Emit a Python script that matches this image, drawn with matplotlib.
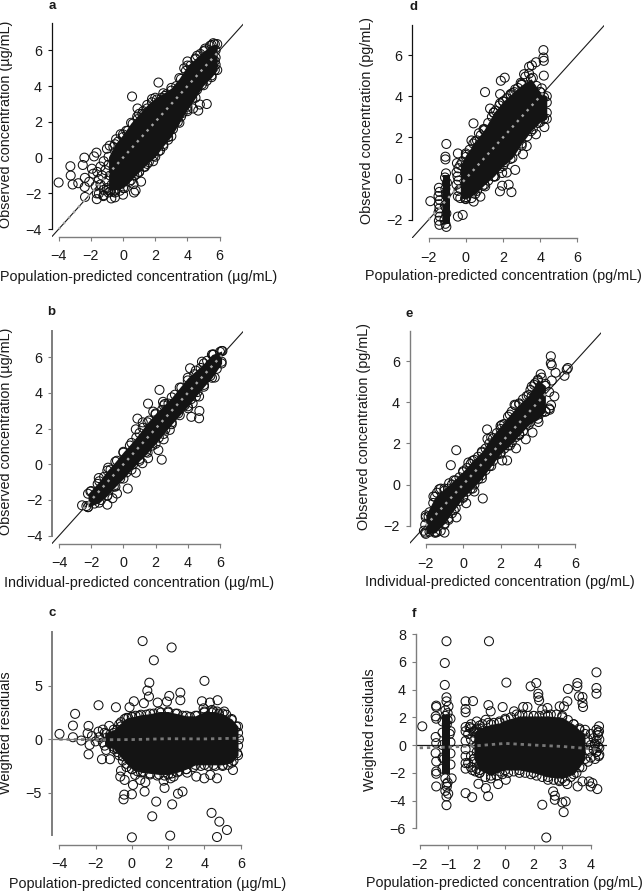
"""Six-panel goodness-of-fit figure. Individual circles were read off the
picture; the solid black mass of overplotted circles is kept as lo/hi bands
with a rim of circles around it."""
import matplotlib
matplotlib.use("Agg")
import matplotlib.pyplot as plt

plt.rcParams["font.family"] = ["Liberation Sans", "DejaVu Sans"]

W, H = 644, 893
INK = "#1a1a1a"
GREY = "#7d7d7d"
FONT = 10.4

# --- panel a ---
a_x = [-4, -3.27, -3.25, -3.13, -2.78, -2.4, -2.5, -2.37, -2.38, -2.36, -1.65, -1.8, -1.93, -1.85, -1.63, -2.1, -1.63, -1.22, -1, -0.83, -0.43, -0.15, 0.2, 0.56, 0.9, 1.25, 0.88, 2.2, 1.8, -0.73, -0.5, 0, 0.68, 0.78, 0.65, 1.12, 0.88, 1.35, 1.87, 2.3, 2.8, 3.2, 3.6, 4, 4.67, 4.77, 5.2, 4.35, 4, 3.8, 4.6, 5.1, 5.6, 2.6,
       -1.6, -1.4, -1.2, -1.5, -1.3, -1.1, -0.9, -1.7, -1.4, -1.0, -0.8, -1.2, -1.0, -0.7, -1.5, -1.2, -0.9, -0.6]
a_y = [-1.39, -0.48, -1, -1.5, -1.43, 0, -0.41, -1.13, -1.64, -2.2, 0.28, 0.07, -0.62, -0.9, -2.32, -1.35, -2, -2.15, 0.5, 0.67, 1.03, 1.31, 1.5, 3.42, 2.75, 2.6, 2.3, 4.2, 3.28, -2.28, -2.22, -2.07, -1.95, -1.84, -1.48, -1.34, -0.9, -0.52, -0.2, 0.4, 1, 1.95, 2.3, 2.6, 2.63, 2.97, 3, 2.75, 5.38, 5, 5.7, 6.1, 6.4, 3.45,
       -0.8, -0.5, -0.2, -1.2, -1.0, -0.7, -0.4, -1.6, -1.5, -1.3, -1.0, -1.8, -1.7, -1.5, -2.0, -2.1, -1.95, -1.9]
a_rim_x = [-0.6, -0.3, 0, 0.3, 0.6, 0.9, 1.2, 1.5, 1.8, 2.1, 2.4, 2.7, 3, 3.3, 3.6, 3.9, 4.2, 4.5, 4.8, 5.1, 5.4, 5.7,
           -0.8, -0.5, -0.2, 0.1, 0.4, 0.7, 1, 1.3, 1.6, 1.9, 2.2, 2.5, 2.8, 3.1, 3.4, 3.7, 4, 4.3, 4.6, 4.9, 5.2, 5.5, 5.7, 5.75, 5.75, 5.75, 5.7]
a_rim_y = [0.6, 0.9, 1.15, 1.5, 1.9, 2.15, 2.45, 2.75, 3.1, 3.25, 3.35, 3.55, 3.75, 4, 4.4, 4.85, 5.15, 5.5, 5.8, 6, 6.25, 6.35,
           -1.9, -1.95, -1.85, -1.7, -1.35, -1, -0.8, -0.5, -0.25, 0.1, 0.35, 0.75, 1.15, 1.6, 2, 2.5, 2.85, 3.3, 3.8, 4.1, 4.3, 4.6, 4.9, 5.2, 5.6, 6, 5.4]
a_core_x = [-0.9, -0.5, 0, 0.5, 1, 1.5, 2, 2.5, 3, 3.5, 4, 4.5, 5, 5.5, 5.85]
a_core_lo = [-1.8, -1.8, -1.7, -1.25, -0.8, -0.35, 0.05, 0.65, 1.2, 1.95, 2.7, 3.35, 4.05, 4.5, 4.9]
a_core_hi = [0.05, 0.75, 1.3, 1.95, 2.45, 2.95, 3.35, 3.6, 3.9, 4.45, 5.15, 5.55, 5.95, 6.3, 6.35]
a_sm_x = [-4, -2, 0, 2, 4, 5.9]
a_sm_y = [-4, -2, 0, 2, 4, 5.9]

# --- panel b ---
b_x = [-2.57, -2.3, -2.05, -1.53, -0.95, -1, -0.68, -0.4, 0.27, 0.77, 1.18, 1.53, 2.17, 2.38, 2.5, 2.88, 0.77, 0.87, 1.53, 2.24, 2.46, 2.57, 4.22, 4.7, 4.72, 4.7, 4.02, 4.3, 4.14, 4.88, 5.67, 6.15, 5.57, 1.2, 1.85]
b_y = [-2.3, -2.34, -1.53, -0.77, -0.19, -2.26, -1.9, -1.64, -1.36, -0.47, 0.06, 0.34, 0.8, 0.26, 1.4, 1.93, 1.96, 2.56, 3.4, 4.17, 3.5, 3.38, 2.66, 2.58, 2.99, 3.8, 3.14, 3.42, 5.38, 5.75, 4.86, 6.35, 6.15, 2.35, 2.95]
b_rim_x = [-2, -1.6, -1.2, -0.8, -0.4, 0, 0.4, 0.8, 1.2, 1.6, 2, 2.4, 2.8, 3.2, 3.6, 4, 4.4, 4.8, 5.2, 5.6, 6,
           -2.2, -1.8, -1.4, -1, -0.6, -0.2, 0.2, 0.6, 1, 1.4, 1.8, 2.2, 2.6, 3, 3.4, 3.8, 4.2, 4.6, 5, 5.4, 5.8, 6.1]
b_rim_y = [-1.5, -1.1, -0.7, -0.3, 0.2, 0.65, 1.05, 1.5, 2.05, 2.45, 2.8, 3.05, 3.4, 3.9, 4.3, 4.7, 5.05, 5.4, 5.8, 6.15, 6.3,
           -2.4, -2.2, -2, -1.75, -1.25, -0.8, -0.45, 0, 0.3, 0.7, 1.05, 1.5, 1.95, 2.35, 2.85, 3.3, 3.65, 4.05, 4.45, 4.95, 5.35, 5.75]
b_core_x = [-2.2, -1.5, -1, -0.5, 0, 0.5, 1, 1.5, 2, 2.5, 3, 3.5, 4, 4.5, 5, 5.5, 6.1]
b_core_lo = [-2.4, -2.15, -1.75, -1.25, -0.8, -0.3, 0.2, 0.65, 1.15, 1.7, 2.25, 2.75, 3.25, 3.8, 4.35, 4.85, 5.65]
b_core_hi = [-1.65, -0.95, -0.35, 0.15, 0.7, 1.2, 1.75, 2.35, 2.85, 3.3, 3.75, 4.3, 4.85, 5.25, 5.65, 6.15, 6.35]
b_sm_x = [-2.5, -1, 0, 2, 4, 6.1]
b_sm_y = [-2.5, -1, 0, 2, 4, 6.1]

# --- panel c ---
c_x = [0.59, 2.19, 1.21, 0.96, 0.85, 0.94, 4, 2.67, 2.67, 2.06, 1.93, 0.11, 0.66, 1.42, -0.88, -1.84, -3.13, -3.25, -3.99, -3.25, -2.79, -2.39, -2.44, -2.33, -2.39, -1.65, -1.21, -1.42, -1.25, -1.84, -0.13, 3.86, 4.3, 4.72, 4.41, 3.95, 4.69, 5.09, 5.57, 4.69, 4.32, 3.99, 3.55, 3.05, 2.3, 2.13, 1.75, 1.8, 0.7, 0, -0.42, -0.46, 1.34, 2.22, 2.54, 2.79, 1.12, 4.39, 4.82, 5.24, 4.69, 2.11, 0, -0.4, 0.06, 0.74, -0.6, 0.18, 0.46, -0.64]
c_y = [9.2, 8.6, 7.4, 5.3, 4.56, 4, 5.47, 4.37, 3.66, 4.06, 3.53, 3.56, 3.38, 3.44, 3, 3.19, 2.38, 1.28, 0.5, 0.19, -0.12, 1.25, 0.56, -0.53, -1.41, -1.87, -1.87, -1, 1.25, 0.72, 3, 3.56, 3.44, 3.66, 2.75, 2.9, 2.6, 2.6, -2.88, -3.66, -3.34, -3.66, -3.5, -3.13, -3.5, -3.66, -3.88, -4.56, -4.9, -5.16, -5.19, -5.63, -5.84, -6.1, -5.1, -4.9, -7.22, -6.9, -7.72, -8.5, -9.16, -9.03, -9.19, -3.81, -4.28, -4.03, -2.94, -3.34, -3.81, -3.5]
c_rim_x = [-0.6, -0.4, -0.2, 0, 0.2, 0.4, 0.8, 1.2, 1.6, 2, 2.4, 2.8, 3.2, 3.6, 4, 4.4, 4.8, 5.2, 5.5, 5.75, 5.85, 5.9, 5.85, 5.8, 5.6,
           -0.8, -0.5, -0.3, 0, 0.3, 0.6, 1, 1.4, 1.8, 2.2, 2.6, 3, 3.4, 3.8, 4.2, 4.6, 5, 5.3,
           -1.8, -1.6, -1.4, -1.2, -1, -1, -0.8, -2, -2.2, -1.6, -0.8, -0.6, -0.5]
c_rim_y = [1.6, 1.9, 2, 2.1, 2.2, 2.2, 2.3, 2.4, 2.5, 2.5, 2.4, 2.2, 2.1, 2.2, 2.5, 2.5, 2.4, 2.3, 1.8, 1.2, 0.6, 0, -0.6, -1.3, -2,
           -1.2, -2, -2.6, -2.8, -3, -3.1, -3.3, -3.4, -3.4, -3.2, -3, -2.8, -2.6, -2.5, -2.5, -2.5, -2.5, -2.4,
           0.2, -0.3, 0.5, -0.4, 0.6, -0.7, 0.9, -0.2, 0.3, 0.9, -0.9, 1.2, -1.6]
c_core_x = [-1.5, -1, -0.7, -0.3, 0, 0.5, 1, 1.5, 2, 2.5, 3, 3.5, 4, 4.5, 5, 5.5, 5.85]
c_core_lo = [-0.6, -0.9, -1.5, -2.3, -2.8, -3.1, -3.2, -3.3, -3.3, -3.1, -2.8, -2.4, -2.4, -2.4, -2.4, -2.2, -1.5]
c_core_hi = [0.6, 0.9, 1.4, 2, 2.1, 2.3, 2.4, 2.6, 2.6, 2.4, 2.2, 2.2, 2.6, 2.6, 2.4, 1.9, 1.2]
c_sm_x = [-4, -2, 0, 2, 4, 5.9]
c_sm_y = [0, -0.05, -0.03, 0.05, 0.03, 0.1]

# --- panel d ---
d_x = [-1.91, -1.05, -1.1, -1.1, -0.43, -0.17, -0.43, -0.48, 0, 0.41, 1.03, 1.3, 1.84, 1.88, 2.09, 1.84, 2.4, 2.65, 2.95, 3.13, 3.4, 3.55, 3.77, 4.17, 4.17, 4.19, 4.19, 4.08, 4.22, 3.77, 3.27, 3.07, 2.65, 2.2, 1.95, 1.95, 2.3, 2.45, 1.83, 0.78, 0.42, -0.04, -0.43, 1.04, 1.58, 0.3, 0.7, 0.95, 1.5,
       -1.45, -1.42, -1.47, -1.4, -1.45, -1.42, -1.47, -1.4, -1.45, -1.42, -1.07, -1.12, -1.05, -1.1, -1.15, -1.02, -1.08, -1.12, -1.05, -1.1, -0.5, -0.45, -0.4, -0.5, -0.4]
d_y = [-1.1, 1.68, 1.06, 0.93, -1.85, -1.77, 1.22, 0.75, 1.22, 2.68, 4.2, 3.4, 4.1, 4.75, 4.9, 3.65, 4.1, 4.33, 4.65, 5.07, 5.43, 5.5, 5.65, 6.24, 5.88, 5.72, 5, 4.38, 2.5, 2.15, 1.58, 1.18, 0.42, 0.29, 0.27, -0.35, -0.3, -0.66, -0.62, -0.88, -1.12, -0.97, -0.87, -0.38, 0.1, 1.85, 2.2, 2.4, 3.2,
       -0.45, -0.65, -0.85, -1.05, -1.25, -1.45, -1.65, -1.85, -2.05, -2.25, 0.25, 0.05, -2.35, -2.2, -2, -0.2, -0.8, -1.3, -1.7, -0.5, 0.3, 0.1, -0.1, -0.3, -0.6]
d_rim_x = [-0.4, -0.2, 0, 0.2, 0.4, 0.6, 0.8, 1, 1.2, 1.4, 1.6, 1.8, 2, 2.2, 2.4, 2.6, 2.8, 3, 3.2, 3.4, 3.6, 3.8, 4, 4.2, 4.35,
           -0.3, 0, 0.3, 0.6, 0.9, 1.2, 1.5, 1.8, 2.1, 2.4, 2.7, 3, 3.3, 3.6, 3.9, 4.2, 4.35]
d_rim_y = [0.5, 0.8, 1.05, 1.4, 1.7, 1.85, 2.1, 2.35, 2.7, 3, 3.3, 3.55, 3.75, 3.9, 4.05, 4.2, 4.4, 4.6, 4.95, 5.1, 4.9, 4.5, 4.2, 3.95, 3.7,
           -0.5, -0.9, -0.95, -0.6, -0.35, -0.1, 0.1, 0.5, 0.8, 0.95, 1.35, 1.6, 2.05, 2.4, 2.7, 2.9, 3.2]
d_col_x = [-1.25, -0.88]
d_col_lo = [-2.2, -2.2]
d_col_hi = [0.15, 0.15]
d_core_x = [-0.3, 0, 0.5, 1, 1.5, 2, 2.5, 3, 3.5, 4, 4.35]
d_core_lo = [-0.95, -1, -0.75, -0.3, 0.1, 0.6, 1, 1.7, 2.3, 2.75, 2.9]
d_core_hi = [0.65, 1.15, 1.8, 2.4, 3.2, 3.75, 4.15, 4.55, 4.85, 4.2, 4]
d_sm_x = [-2, -1, 0, 2, 4, 4.3]
d_sm_y = [-2, -1, 0, 2, 4, 4.3]

# --- panel e ---
e_x = [4.69, 4.69, 4.74, 5.54, 5.42, 5.6, 4.94, 4.15, 4.74, 4.88, 4.63, 4.03, 3.71, 3.35, 2.83, 2.35, 2.09, 1.28, 1.3, -0.37, -0.66, 0.28, 1.05, 0.6, 0.16, -0.36, -0.78, -1, -2.03, -1.41, -0.75, -1.28, -1.59, -2.03, -1.85, 3.67, 3.67, 3.85, 2.75, 2.07, 4.7]
e_y = [6.24, 5.9, 5.8, 5.6, 5.29, 5.67, 5.44, 5.37, 5.06, 4.29, 3.64, 3.04, 2.53, 2.2, 1.76, 1.17, 1.17, 2.68, 2.22, 1.67, 0.94, 1.07, -0.68, -0.34, -0.91, -1.6, -1.72, -2.34, -2.34, -2.32, 0.06, -0.23, -0.58, -1.96, -1.55, 4.29, 4.77, 4.93, 3.88, 2.9, 3.86]
e_rim_x = [-2, -1.8, -1.6, -1.4, -1.2, -1, -0.8, -0.6, -0.4, -0.2, 0, 0.2, 0.4, 0.6, 0.8, 1, 1.2, 1.4, 1.6, 1.8, 2, 2.2, 2.4, 2.6, 2.8, 3, 3.2, 3.4, 3.6, 3.8, 4, 4.2, 4.4, 4.6,
           -2.1, -1.8, -1.5, -1.2, -1, -0.8, -0.6, -0.4, -0.2, 0, 0.2, 0.4, 0.6, 0.8, 1, 1.2, 1.4, 1.6, 1.8, 2, 2.2, 2.4, 2.6, 2.8, 3, 3.2, 3.4, 3.6, 3.8, 4, 4.2, 4.4, 4.6]
e_rim_y = [-1.6, -1.35, -0.9, -0.4, -0.2, -0.3, -0.2, 0, 0.2, 0.35, 0.6, 0.8, 1, 1.2, 1.35, 1.55, 1.75, 2, 2.25, 2.5, 2.7, 2.95, 3.3, 3.55, 3.85, 3.95, 4.15, 4.3, 4.6, 4.85, 5.05, 5.2, 4.9, 4.5,
           -2.25, -2.3, -2.3, -2.25, -1.95, -1.65, -1.4, -1.15, -0.8, -0.6, -0.35, -0.2, 0, 0.25, 0.45, 0.7, 0.9, 1.15, 1.45, 1.55, 1.75, 1.9, 2.05, 2.3, 2.45, 2.6, 2.95, 3.05, 3.3, 3.4, 3.5, 3.55, 3.7]
e_core_x = [-2, -1.5, -1, -0.5, 0, 0.5, 1, 1.5, 2, 2.5, 3, 3.5, 4, 4.4]
e_core_lo = [-2.4, -2.35, -1.9, -1.25, -0.65, -0.2, 0.3, 0.9, 1.5, 1.9, 2.4, 2.9, 3.2, 3.55]
e_core_hi = [-1.5, -0.6, -0.2, 0.2, 0.65, 1.15, 1.6, 2.3, 2.85, 3.4, 3.9, 4.35, 5.1, 4.8]
e_sm_x = [-2, -1, 0, 2, 4, 4.6]
e_sm_y = [-2, -1, 0, 2, 4, 4.6]

# --- panel f ---
f_x = [-1.91, -1.06, -1.12, -1.12, -1.06, -1.06, -0.99, -1.42, -1.42, -1.44, -1.42, -1.44, -1.42, -1.44, -1.42, -1.42, -1.42, -1.42, -1.06, -1.06, -0.39, -0.39, -0.39, -0.13, -0.39, -0.16, 0.06, 0.32, 0.4, 0.43, 0.41, 0.49, 0.91, 1.04, 1.89, 2.09, 2.16, 2.16, 2.19, 1.63, 1.78, 1.31, 2.3, 2.48, 2.91, 3.06, 3.18, 3.2, 3.53, 3.53, 3.59, 3.71, 3.71, 3.73, 4.2, 4.2, 4.2, 4.29, 4.29, 2.3, 2.68, 2.74, 2.74, 3, 3.12, 3.05, 2.44, 3.18, 3.54, 4.23, 4, 4.06, 3.94, 3.71, 2.89, 0.75, 1.02, 0, 0.32,
       -0.39, -0.39, -0.39, -0.39, -0.39, -0.39, -0.39, -0.2, -0.2, -0.2, -0.2, -0.05, -0.05, 0.1, 0.1, 4.2, 4.25, 4.3, 4.15, 4.3, 4.2, 4.28, 4.15, 4.25, -1.1, -1.02, -1.1, -1.02, -1.05, -1.1, -1, -1.05, -0.95, -1.15]
f_y = [1.35, 7.48, 5.91, 4.33, 3.44, 3.15, 2.79, 2.84, 2.74, 2.07, 1.9, 0.58, 0.14, -0.58, -1.18, -1.9, -2.07, -2.98, -4.33, -3.7, 3.15, 2.6, 2.36, 3.17, -3.46, -3.75, -2.79, -3.1, -3.68, 7.48, 2.88, 2.43, 2.74, 4.5, 4.23, 4.47, 3.7, 3.46, 3.22, 2.74, 2.74, 2.43, 2.55, 2.67, 2.79, 2.79, 3.15, 4.04, 4.47, 4.23, 3.51, 3.46, 3.03, 2.74, 5.24, 4.11, 3.7, 1.35, 0.99, -4.3, -3.34, -3.65, -3.94, -4.13, -4.06, -4.83, -6.66, -2.81, -2.98, -3.17, -2.98, -2.74, -2.62, -2.62, -2.5, -2.81, -2.5, 1.7, 1.82,
       1.3, 1, 0.3, -0.3, -0.8, -1.3, -1.7, 1.2, 0.4, -0.8, -1.6, 1, -1.9, 1.4, -2, 1.1, 0.7, 0.4, 0.1, -0.2, -0.5, -0.8, -1, 0.9, 2.5, 2.3, -2.4, -2.7, -3, -3.3, -3.5, 1.5, 0.8, -1]
f_rim_x = [0, 0.2, 0.4, 0.6, 0.8, 1, 1.2, 1.4, 1.6, 1.8, 2, 2.2, 2.4, 2.6, 2.8, 3, 3.2, 3.4, 3.6, 3.8, 4,
           -0.1, 0, 0.1, 0.3, 0.5, 0.7, 0.9, 1.1, 1.3, 1.5, 1.7, 1.9, 2.1, 2.3, 2.5, 2.7, 2.9, 3.1, 3.3, 3.5, 3.7, 3.9, 4,
           -0.2, -0.1, -0.05, 0, 0, -0.1, 0.05, 0.1, 0.2, 0.2, 0.15, -0.3, -0.3, -0.15, -0.25,
           4.1, 4.2, 4.25, 4.1, 4.2, 4.3, 4.15, 3.9, 3.95, 4,
           -1.2, -1.2, -1.2, -1.2, -1.2, -0.92, -0.92, -0.92, -0.92, -0.92, -0.88, -1.06, -1.1, -1.02]
f_rim_y = [1.2, 1.5, 1.6, 1.6, 1.7, 1.9, 2, 2.2, 2.2, 2.1, 2.1, 2.1, 2.2, 2.2, 2.2, 2.1, 1.8, 1.5, 1.2, 1.1, 0.8,
           -1.2, -1.7, -2, -2.3, -2.4, -2.2, -2.1, -2, -1.9, -2, -2, -2.1, -2.2, -2.3, -2.5, -2.5, -2.6, -2.6, -2.3, -2, -1.6, -1.2, -0.9,
           1.5, 1, 0.5, 0, -0.5, -1, 0.9, 0.3, 1, -1.5, -0.5, -1.3, 0.8, -1.8, 1.3,
           0.5, 0.3, -0.1, -0.3, -0.5, -0.7, 0, 0.4, -0.4, 0,
           1.7, 0.9, 0, -0.9, -1.7, 1.9, 1, 0.2, -0.6, -1.4, -2.4, -2.8, 2.1, 1.8]
f_col_x = [-1.2, -0.92]
f_col_lo = [-2.1, -2.1]
f_col_hi = [2.2, 2.2]
f_core_x = [-0.1, 0.1, 0.5, 0.8, 1, 1.5, 2, 2.5, 3, 3.4, 3.6, 3.8]
f_core_lo = [-1, -1.8, -2.2, -1.9, -1.8, -1.8, -2, -2.3, -2.4, -2.1, -1.6, -1]
f_core_hi = [0.9, 1.2, 1.5, 1.6, 1.8, 2.1, 2.1, 2.1, 2, 1.5, 1.1, 0.8]
f_sm_x = [-2, -1, 0, 1, 2, 3, 4.2]
f_sm_y = [-0.2, -0.15, -0.05, 0.12, 0, -0.1, -0.3]

x_ticks_wide = [-4, -2, 0, 2, 4, 6]
x_ticks_narrow = [-2, 0, 2, 4, 6]
f_x_ticks = [-2, -1, 0, 1, 2, 3, 4]
f_x_labels = ["\u22122", "\u22121", "2", "0", "2", "3", "4"]


def px_text(fig, x, y, s, **kw):
    fig.text(x / W, 1 - y / H, s, color=INK, ha="center", va="center", **kw)


def make_axes(fig, box, xlim, ylim, xticks, yticks, ybounds, left_color, left_lw):
    x0, y0, x1, y1 = box
    ax = fig.add_axes([x0 / W, 1 - y1 / H, (x1 - x0) / W, (y1 - y0) / H])
    ax.patch.set_alpha(0)
    ax.set_xlim(*xlim)
    ax.set_ylim(*ylim)
    ax.set_xticks(xticks)
    ax.set_yticks(yticks)
    ax.set_yticklabels([str(t).replace("-", "\u2212") for t in yticks])
    ax.set_xticklabels([str(t).replace("-", "\u2212") for t in xticks])
    ax.spines["top"].set_visible(False)
    ax.spines["right"].set_visible(False)
    ax.spines["left"].set_bounds(*ybounds)
    ax.spines["bottom"].set_bounds(xticks[0], xticks[-1])
    ax.spines["left"].set_color(left_color)
    ax.spines["left"].set_linewidth(left_lw)
    ax.spines["bottom"].set_color(GREY)
    ax.spines["bottom"].set_linewidth(1.0)
    ax.tick_params(axis="x", length=3, width=0.8, color=GREY, labelsize=FONT,
                   labelcolor=INK, pad=6)
    ax.tick_params(axis="y", length=3, width=0.8, color=left_color, labelsize=FONT,
                   labelcolor=INK, pad=4)
    return ax


def draw_cloud(ax, x, y, core_x, core_lo, core_hi, sm_x, sm_y, diagonal=True, bars=None):
    # reference line first so the cloud sits on top of it
    if diagonal:
        ax.plot([-10, 10], [-10, 10], color=INK, lw=0.8, zorder=1)
    else:
        ax.axhline(0, color=GREY if bars is None else INK, lw=0.9, zorder=1)
    ax.fill_between(core_x, core_lo, core_hi, color="#141414", lw=0, zorder=3)
    if bars is not None:
        ax.fill_between(bars[0], bars[1], bars[2], color="#141414", lw=0, zorder=3)
    for px, py in ((x, y), (core_x, core_lo), (core_x, core_hi)):
        ax.scatter(px, py, s=42, facecolors="none", edgecolors="#111111",
                   linewidths=0.75, zorder=2, clip_on=False)
    if diagonal:
        ax.plot(sm_x, sm_y, color="#a8a8a8", lw=1.7, ls=(0, (1, 2.1)), zorder=4)
    else:
        ax.plot(sm_x, sm_y, color="#787878", lw=2, ls=(0, (1.2, 1.4)), zorder=4)


fig = plt.figure(figsize=(W / 100, H / 100), dpi=100, facecolor="white")

ax = make_axes(fig, (51.7, 23, 243, 236.5), (-4.43, 7.45), (-4.41, 7.53),
               x_ticks_wide, [-4, -2, 0, 2, 4, 6], (-4, 7.53), "#111111", 0.9)
draw_cloud(ax, a_x + a_rim_x, a_y + a_rim_y, a_core_x, a_core_lo, a_core_hi, a_sm_x, a_sm_y)

ax = make_axes(fig, (52.3, 331, 243, 543.7), (-4.42, 7.43), (-4.45, 7.47),
               x_ticks_wide, [-4, -2, 0, 2, 4, 6], (-4, 7.47), GREY, 1.4)
draw_cloud(ax, b_x + b_rim_x, b_y + b_rim_y, b_core_x, b_core_lo, b_core_hi, b_sm_x, b_sm_y)

ax = make_axes(fig, (51.7, 632, 243.3, 844.7), (-4.42, 6.14), (-9.88, 10.05),
               x_ticks_wide, [-5, 0, 5], (-8.97, 10.05), GREY, 1.4)
draw_cloud(ax, c_x + c_rim_x, c_y + c_rim_y, c_core_x, c_core_lo, c_core_hi, c_sm_x, c_sm_y,
           diagonal=False)

ax = make_axes(fig, (412.3, 25, 603.7, 238), (-2.88, 7.41), (-2.89, 7.46),
               x_ticks_narrow, [-2, 0, 2, 4, 6], (-2, 7.46), "#111111", 0.9)
draw_cloud(ax, d_x + d_rim_x, d_y + d_rim_y, d_core_x, d_core_lo, d_core_hi, d_sm_x, d_sm_y,
           bars=(d_col_x, d_col_lo, d_col_hi))

ax = make_axes(fig, (409.7, 331, 601.3, 544.3), (-2.86, 7.39), (-2.91, 7.47),
               x_ticks_narrow, [-2, 0, 2, 4, 6], (-2, 7.47), GREY, 1.0)
draw_cloud(ax, e_x + e_rim_x, e_y + e_rim_y, e_core_x, e_core_lo, e_core_hi, e_sm_x, e_sm_y)

ax = make_axes(fig, (415.7, 634, 607, 845.3), (-2.14, 4.57), (-7.22, 8),
               f_x_ticks, [-6, -4, -2, 0, 2, 4, 6, 8], (-6, 8), GREY, 1.0)
ax.set_xticklabels(f_x_labels)
draw_cloud(ax, f_x + f_rim_x, f_y + f_rim_y, f_core_x, f_core_lo, f_core_hi, f_sm_x, f_sm_y,
           diagonal=False, bars=(f_col_x, f_col_lo, f_col_hi))

# text is placed in picture pixels, each panel has its own offsets
pop_ug = "Population-predicted concentration (\u00b5g/mL)"
pop_pg = "Population-predicted concentration (pg/mL)"
ind_ug = "Individual-predicted concentration (\u00b5g/mL)"
ind_pg = "Individual-predicted concentration (pg/mL)"
obs_ug = "Observed concentration (\u00b5g/mL)"
obs_pg = "Observed concentration (pg/mL)"

px_text(fig, 139, 277, pop_ug, fontsize=FONT)
px_text(fig, 503, 276, pop_pg, fontsize=FONT)
px_text(fig, 139, 583, ind_ug, fontsize=FONT)
px_text(fig, 500, 582, ind_pg, fontsize=FONT)
px_text(fig, 148, 884, pop_ug, fontsize=FONT)
px_text(fig, 504.5, 883, pop_pg, fontsize=FONT)

px_text(fig, 6.5, 124, obs_ug, fontsize=FONT, rotation=90)
px_text(fig, 367, 120, obs_pg, fontsize=FONT, rotation=90)
px_text(fig, 6.5, 431, obs_ug, fontsize=FONT, rotation=90)
px_text(fig, 364, 427, obs_pg, fontsize=FONT, rotation=90)
px_text(fig, 6.5, 733, "Weighted residuals", fontsize=FONT, rotation=90)
px_text(fig, 370, 730, "Weighted residuals", fontsize=FONT, rotation=90)

for letter, lx, ly in [("a", 52, 6), ("b", 51, 312), ("c", 52, 613),
                       ("d", 413, 7), ("e", 409, 314), ("f", 414, 614)]:
    px_text(fig, lx, ly, letter, fontsize=9.5, fontweight="bold")

fig.savefig("out.png", dpi=100)
